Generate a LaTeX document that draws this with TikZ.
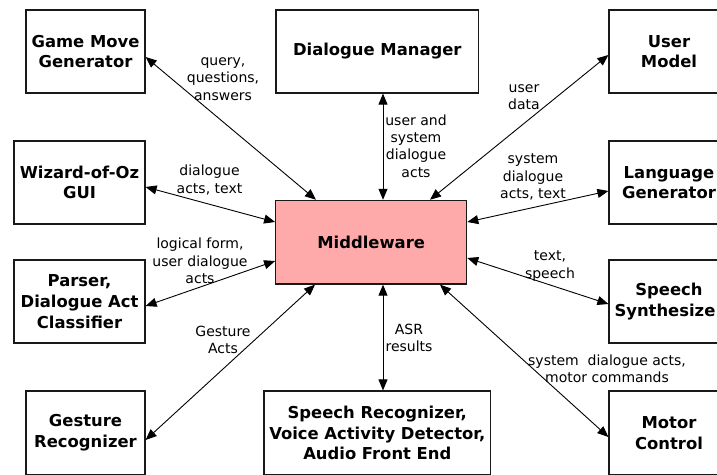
\documentclass[tikz,border=0pt]{standalone}
\usepackage{fontspec}
\setmainfont{DejaVu Sans}
\usetikzlibrary{arrows.meta}
\begin{document}
\begin{tikzpicture}[x=1pt,y=-1pt,
  box/.style={draw=black!90,line width=1.2pt,inner sep=0pt,align=center,
    font=\fontsize{16.4}{20.7}\selectfont\bfseries},
  lbl/.style={inner sep=0pt,align=center,font=\fontsize{14}{17.3}\selectfont},
  link/.style={line width=0.9pt,{Triangle[length=11pt,width=9pt]}-{Triangle[length=11pt,width=9pt]}}]
\fill[white] (0,0) rectangle (717,474);
\useasboundingbox (0,0) rectangle (717,474);
\clip (0,0) rectangle (717,474);
% boxes
\node[box,minimum width=119pt,minimum height=83pt] (gmg) at (85.5,51.5) {Game Move\\Generator};
\node[box,minimum width=202.7pt,minimum height=83pt] (dm) at (377.3,51.5) {Dialogue Manager};
\node[box,minimum width=120pt,minimum height=83pt] (um) at (669,51.5) {User\\Model};
\node[box,minimum width=131pt,minimum height=83pt] (woz) at (79.5,182.5) {Wizard-of-Oz\\GUI};
\node[box,minimum width=120pt,minimum height=83pt] (lg) at (669,182.5) {Language\\Generator};
\node[box,minimum width=191pt,minimum height=83.7pt,fill={rgb,255:red,255;green,170;blue,170}] (mw) at (371.2,242.2) {Middleware};
\node[box,minimum width=131pt,minimum height=83pt] (ps) at (79.5,301.5) {Parser,\\Dialogue Act\\Classifier};
\node[box,minimum width=120pt,minimum height=83pt] (ss) at (669,301.5) {Speech\\Synthesize\phantom{r}};
\node[box,minimum width=119pt,minimum height=84pt] (gr) at (85.5,433) {Gesture\\Recognizer};
\node[box,minimum width=226.7pt,minimum height=84pt] (sr) at (377.3,433) {Speech Recognizer,\\Voice Activity Detector,\\Audio Front End};
\node[box,minimum width=120pt,minimum height=84pt] (mc) at (669,433) {Motor\\Control};
% connectors
\draw[link] ([yshift=-5.5pt]gmg.east) -- ([xshift=-55.2pt]mw.north);
\draw[link] ([yshift=-4.5pt]woz.east) -- ([yshift=20.2pt]mw.west);
\draw[link] ([xshift=5.7pt]dm.south) -- ([xshift=11.8pt]mw.north);
\draw[link] ([yshift=-3.5pt]um.west) -- ([xshift=58.8pt]mw.north);
\draw[link] ([yshift=-8.5pt]lg.west) -- ([yshift=20.2pt]mw.east);
\draw[link] ([yshift=-4.5pt]ps.east) -- ([yshift=-18.8pt]mw.west);
\draw[link] ([yshift=-7pt]gr.east) -- ([xshift=-56.2pt]mw.south);
\draw[link] ([xshift=5.7pt]sr.north) -- ([xshift=11.8pt]mw.south);
\draw[link] ([yshift=-2.5pt]ss.west) -- ([yshift=-15.8pt]mw.east);
\draw[link] ([yshift=-4pt]mc.west) -- ([xshift=68.8pt]mw.south);
% labels
\node[lbl] (l1) at (223,79) {query,\\questions,\\answers};
\node[lbl] (l2) at (209.5,180) {dialogue\\acts, text};
\node[lbl] (l3) at (416,146) {user and\\system\\dialogue\\acts};
\node[lbl] (l4) at (524,97) {user\\data};
\node[lbl] (l5) at (533,177) {system\\dialogue\\acts, text};
\node[lbl] (l6) at (200,261) {logical form,\\user dialogue\\acts};
\node[lbl] (l7) at (223,340) {Gesture\\Acts};
\node[lbl] (l8) at (550,266) {text,\\speech};
\node[lbl] (l9) at (409,338) {ASR\\results};
\node[lbl] (l10) at (607,369) {system\ \ dialogue acts,\\motor commands};
\end{tikzpicture}
\end{document}
